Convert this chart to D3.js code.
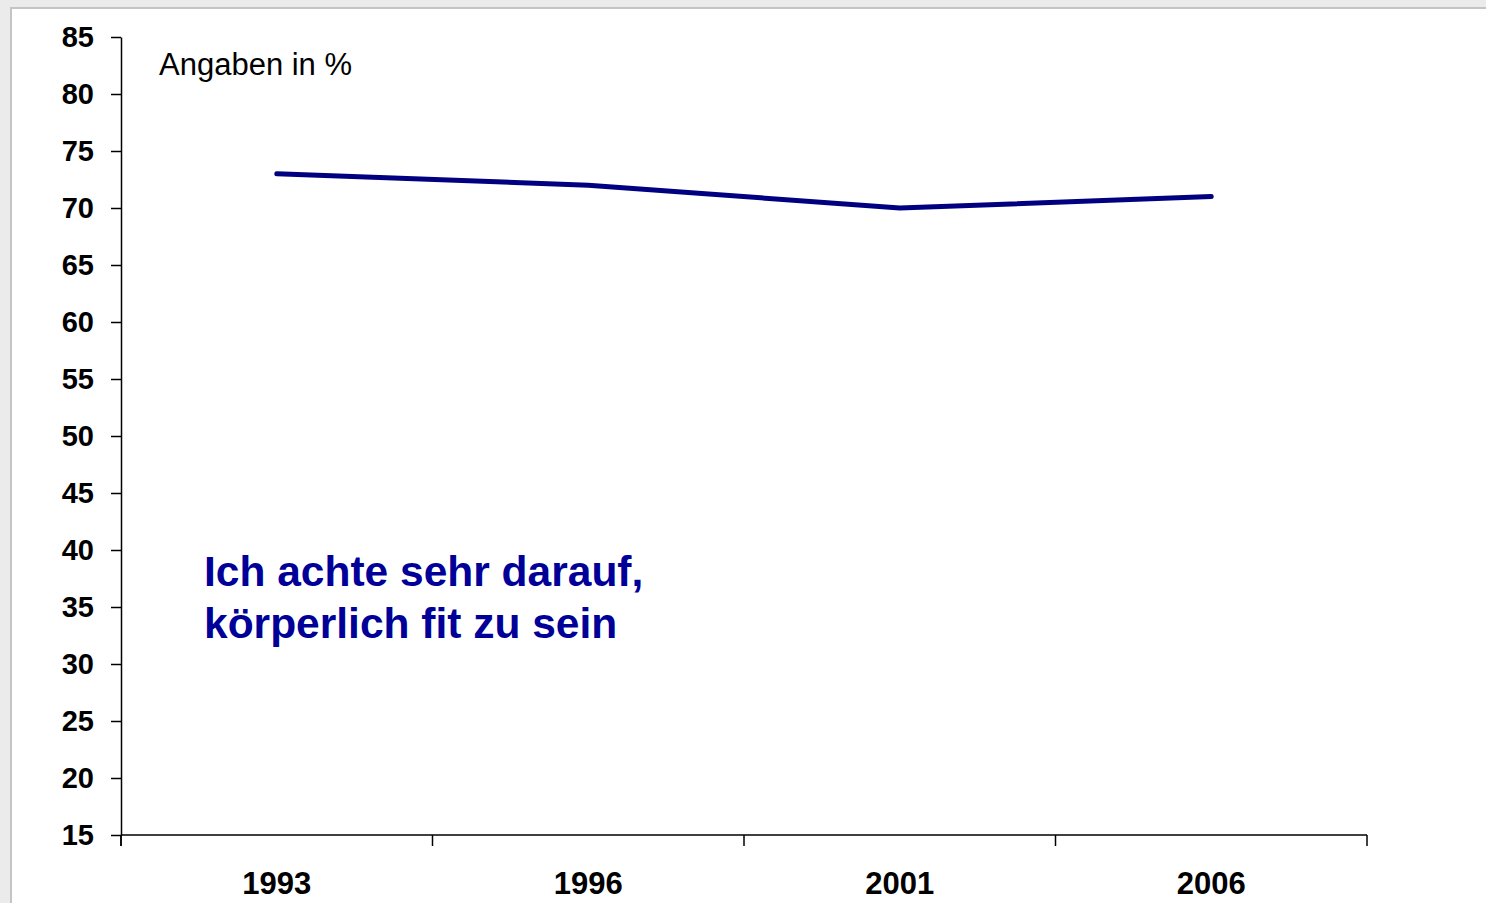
<!DOCTYPE html>
<html>
<head>
<meta charset="utf-8">
<script src="https://cdn.jsdelivr.net/npm/d3@7"></script>
<style>
  html, body { margin: 0; padding: 0; background: #ebebeb; }
  svg { display: block; }
  text { font-family: "Liberation Sans", Arial, sans-serif; }
</style>
</head>
<body>
<svg id="chart"></svg>
<script>
const years = ['1993', '1996', '2001', '2006'];
const values = [73, 72, 70, 71];
const yTicks = [15, 20, 25, 30, 35, 40, 45, 50, 55, 60, 65, 70, 75, 80, 85];
const unitLabel = 'Angaben in %';
const seriesLabel = ['Ich achte sehr darauf,', 'körperlich fit zu sein'];

const width = 1486;
const height = 903;

const svg = d3.select('#chart')
  .attr('width', width)
  .attr('height', height);

// panel frame
svg.append('rect')
  .attr('x', 11)
  .attr('y', 8)
  .attr('width', width)
  .attr('height', height)
  .attr('fill', '#fff')
  .attr('stroke', '#c4c4c4')
  .attr('stroke-width', 2);

const plotLeft = 121, plotRight = 1367, plotTop = 37, plotBottom = 835;

const x = d3.scaleBand()
  .domain(years)
  .range([plotLeft, plotRight])
  .paddingInner(0)
  .paddingOuter(0);

const y = d3.scaleLinear()
  .domain([15, 85])
  .range([plotBottom, plotTop]);

// y axis
const yAxis = svg.append('g')
  .attr('transform', `translate(${plotLeft},0)`)
  .call(d3.axisLeft(y).tickValues(yTicks).tickSize(10).tickPadding(17).tickSizeOuter(0));
yAxis.select('.domain').attr('stroke', '#000').attr('stroke-width', 1.5);
yAxis.selectAll('.tick line').attr('stroke', '#000').attr('stroke-width', 1.5);
yAxis.selectAll('text')
  .attr('font-size', 29)
  .attr('font-weight', 'bold')
  .attr('fill', '#000');

// extend y axis below the x axis
svg.append('line')
  .attr('x1', plotLeft).attr('x2', plotLeft)
  .attr('y1', plotBottom).attr('y2', plotBottom + 11)
  .attr('stroke', '#000').attr('stroke-width', 1.5);

// x axis: line and boundary ticks
svg.append('line')
  .attr('x1', plotLeft).attr('x2', plotRight)
  .attr('y1', plotBottom).attr('y2', plotBottom)
  .attr('stroke', '#000').attr('stroke-width', 1.5);

const edges = years.map(d => x(d)).concat([x.range()[1]]);
svg.append('g')
  .selectAll('line')
  .data(edges)
  .enter()
  .append('line')
  .attr('x1', d => d).attr('x2', d => d)
  .attr('y1', plotBottom).attr('y2', plotBottom + 11)
  .attr('stroke', '#000').attr('stroke-width', 1.5);

// x labels
const xAxis = svg.append('g')
  .attr('transform', `translate(0,${plotBottom})`)
  .call(d3.axisBottom(x).tickSize(0).tickPadding(37));
xAxis.select('.domain').remove();
xAxis.selectAll('text')
  .attr('font-size', 31)
  .attr('font-weight', 'bold')
  .attr('fill', '#000');

// line
const line = d3.line()
  .x((d, i) => x(years[i]) + x.bandwidth() / 2)
  .y(d => y(d));

svg.append('path')
  .datum(values)
  .attr('d', line)
  .attr('fill', 'none')
  .attr('stroke', '#000080')
  .attr('stroke-width', 5)
  .attr('stroke-linecap', 'round')
  .attr('stroke-linejoin', 'round');

// texts
svg.append('text')
  .attr('x', 159)
  .attr('y', 75)
  .attr('font-size', 31)
  .attr('fill', '#000')
  .text(unitLabel);

svg.append('text')
  .attr('font-size', 42.5)
  .attr('font-weight', 'bold')
  .attr('fill', '#000099')
  .selectAll('tspan')
  .data(seriesLabel)
  .enter()
  .append('tspan')
  .attr('x', 204)
  .attr('y', (d, i) => 586 + i * 52)
  .text(d => d);
</script>
</body>
</html>
